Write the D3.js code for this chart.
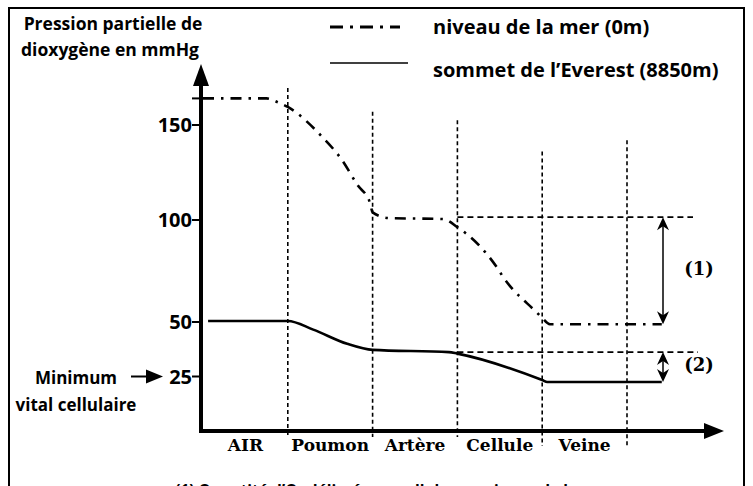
<!DOCTYPE html>
<html>
<head>
<meta charset="utf-8">
<script src="https://cdn.jsdelivr.net/npm/d3@7"></script>
<style>
  body { margin: 0; background: #fff; }
  svg { display: block; }
  .sans { font-family: "Open Sans", Lato, sans-serif; font-weight: 700; }
  .serif { font-family: "DejaVu Serif", serif; font-weight: 700; }
</style>
</head>
<body>
<div id="chart"></div>
<script>
// compartments along the oxygen path
var categories = ["AIR", "Poumon", "Artère", "Cellule", "Veine"];

// y ticks (mmHg)
var yTicks = [25, 50, 100, 150];

// partial pressure of O2, [position in compartments, mmHg]
var seaLevel = [[0, 164], [0.75, 164], [0.88, 162], [1, 159.5], [1.4, 144], [1.64, 131.5], [1.82, 118.5],
                [1.97, 109], [2, 104], [2.2, 101], [2.83, 100.5], [3, 96.5], [3.47, 76.5], [3.54, 72],
                [3.94, 54.5], [4, 52], [4.09, 49], [5.41, 49]];
var everest = [[0.06, 50.5], [1, 50.5], [1.3, 46.5], [1.7, 40], [2, 37.2], [2.9, 36.2], [3, 35.5],
               [4, 23.4], [4.06, 22.5], [5.41, 22.5]];

// hand-drawn height (mmHg) reached by each compartment divider
var dividerTops = [169.5, 157, 152.5, 136, 142];

// reference levels used for the (1) and (2) brackets
var seaArtery = 101.5, everestArtery = 36.2;
var seaVein = 49, everestVein = 22.5;

var width = 753, height = 486;

var svg = d3.select("#chart").append("svg")
    .attr("width", width)
    .attr("height", height);

// frame
svg.append("rect")
    .attr("x", 9).attr("y", 8)
    .attr("width", 735).attr("height", 500)
    .attr("fill", "none").attr("stroke", "#000").attr("stroke-width", 2);

// scales (the original y axis is not drawn evenly, so use a polylinear scale)
var x = d3.scaleLinear().domain([0, 5]).range([203, 627]);
var y = d3.scaleLinear().domain([0, 50, 100, 150]).range([431, 322, 220, 125]);

var x0 = 201, yBase = y(0);

// compartment dividers
svg.append("g").selectAll("line")
    .data(dividerTops)
    .enter().append("line")
    .attr("x1", function(d, i) { return x(i + 1); })
    .attr("x2", function(d, i) { return x(i + 1); })
    .attr("y1", function(d) { return y(d); })
    .attr("y2", function(d, i) { return yBase + (i < 3 ? 6 : 15); })
    .attr("stroke", "#000").attr("stroke-width", 1.6)
    .attr("stroke-dasharray", "4,3");

// reference dashed levels
var refs = [seaArtery, everestArtery];
svg.append("g").selectAll("line")
    .data(refs)
    .enter().append("line")
    .attr("x1", x(3)).attr("x2", function(d, i) { return i === 0 ? 693 : 698; })
    .attr("y1", function(d) { return y(d); })
    .attr("y2", function(d) { return y(d); })
    .attr("stroke", "#000").attr("stroke-width", 1.6)
    .attr("stroke-dasharray", "6,4");

// series
var line = d3.line()
    .x(function(d) { return x(d[0]); })
    .y(function(d) { return y(d[1]); })
    .curve(d3.curveMonotoneX);

svg.append("path")
    .datum(seaLevel)
    .attr("d", line)
    .attr("fill", "none").attr("stroke", "#000").attr("stroke-width", 2.6)
    .attr("stroke-dasharray", "11,7,2.5,7");

svg.append("path")
    .datum(everest)
    .attr("d", line)
    .attr("fill", "none").attr("stroke", "#000").attr("stroke-width", 2.6);

// axes
svg.append("line")
    .attr("x1", x0).attr("x2", x0)
    .attr("y1", yBase + 2).attr("y2", 80)
    .attr("stroke", "#000").attr("stroke-width", 4);
svg.append("path")
    .attr("d", "M" + x0 + ",64L" + (x0 - 8) + ",86L" + (x0 + 8) + ",86Z")
    .attr("fill", "#000");

svg.append("line")
    .attr("x1", x0 - 2).attr("x2", 710)
    .attr("y1", yBase).attr("y2", yBase)
    .attr("stroke", "#000").attr("stroke-width", 4);
svg.append("path")
    .attr("d", "M724," + yBase + "L704," + (yBase - 8) + "L704," + (yBase + 8) + "Z")
    .attr("fill", "#000");

// y ticks
var tickVals = yTicks.concat([seaLevel[0][1]]);
svg.append("g").selectAll("line")
    .data(tickVals)
    .enter().append("line")
    .attr("x1", x0 - 9).attr("x2", x0)
    .attr("y1", function(d) { return y(d); })
    .attr("y2", function(d) { return y(d); })
    .attr("stroke", "#000").attr("stroke-width", 2);

svg.append("g").selectAll("text")
    .data(yTicks)
    .enter().append("text")
    .attr("class", "sans")
    .attr("x", x0 - 9)
    .attr("y", function(d) { return y(d); })
    .attr("dy", "0.36em")
    .attr("text-anchor", "end")
    .style("font-size", "20px")
    .text(function(d) { return d; });

// category labels
svg.append("g").selectAll("text")
    .data(categories)
    .enter().append("text")
    .attr("class", "serif")
    .attr("x", function(d, i) { return x(i + 0.5); })
    .attr("y", yBase + 20)
    .attr("text-anchor", "middle")
    .style("font-size", "17px")
    .text(function(d) { return d; });

// y title
var title = svg.append("text").attr("class", "sans")
    .attr("text-anchor", "middle").style("font-size", "17.5px");
title.append("tspan").attr("x", 113).attr("y", 30).text("Pression partielle de");
title.append("tspan").attr("x", 110).attr("y", 56).text("dioxygène en mmHg");

// legend
svg.append("line")
    .attr("x1", 330).attr("x2", 400).attr("y1", 27).attr("y2", 27)
    .attr("stroke", "#000").attr("stroke-width", 3)
    .attr("stroke-dasharray", "13,7,3,7");
svg.append("line")
    .attr("x1", 330).attr("x2", 408).attr("y1", 63).attr("y2", 63)
    .attr("stroke", "#000").attr("stroke-width", 1.5);
svg.append("text").attr("class", "sans")
    .attr("x", 433).attr("y", 34).style("font-size", "20px")
    .text("niveau de la mer (0m)");
svg.append("text").attr("class", "sans")
    .attr("x", 433).attr("y", 77).style("font-size", "20px")
    .text("sommet de l’Everest (8850m)");

// minimum vital annotation
svg.append("text").attr("class", "sans")
    .attr("x", 76).attr("y", 384).attr("text-anchor", "middle")
    .style("font-size", "17px").text("Minimum");
svg.append("text").attr("class", "sans")
    .attr("x", 76).attr("y", 411).attr("text-anchor", "middle")
    .style("font-size", "17px").text("vital cellulaire");
svg.append("line")
    .attr("x1", 131).attr("x2", 148).attr("y1", y(25)).attr("y2", y(25))
    .attr("stroke", "#000").attr("stroke-width", 2);
svg.append("path")
    .attr("d", "M163," + y(25) + "L146," + (y(25) - 7) + "L146," + (y(25) + 7) + "Z")
    .attr("fill", "#000");

// double arrows (1) and (2)
var ax = 663;
function doubleArrow(v1, v2, label) {
    var ya = y(v1), yb = y(v2);
    svg.append("line")
        .attr("x1", ax).attr("x2", ax).attr("y1", ya + 8).attr("y2", yb - 8)
        .attr("stroke", "#000").attr("stroke-width", 1.5);
    svg.append("path")
        .attr("d", "M" + ax + "," + ya + "L" + (ax - 6) + "," + (ya + 13) + "L" + ax + "," + (ya + 9) +
              "L" + (ax + 6) + "," + (ya + 13) + "Z")
        .attr("fill", "#000");
    svg.append("path")
        .attr("d", "M" + ax + "," + yb + "L" + (ax - 6) + "," + (yb - 13) + "L" + ax + "," + (yb - 9) +
              "L" + (ax + 6) + "," + (yb - 13) + "Z")
        .attr("fill", "#000");
    svg.append("text").attr("class", "serif")
        .attr("x", 699).attr("y", y((v1 + v2) / 2) - 2).attr("dy", "0.35em")
        .attr("text-anchor", "middle").style("font-size", "18px")
        .text(label);
}
doubleArrow(seaArtery, seaVein, "(1)");
doubleArrow(everestArtery, everestVein, "(2)");

// caption, cut by the bottom of the picture as in the original
svg.append("text").attr("class", "sans")
    .attr("x", 394).attr("y", 496).attr("text-anchor", "middle")
    .style("font-size", "15.5px")
    .html("(1) Quantité d’O<tspan dy='4' style='font-size:11px'>2</tspan><tspan dy='-4'> délivré aux cellules au niveau de la mer</tspan>");
</script>
</body>
</html>
